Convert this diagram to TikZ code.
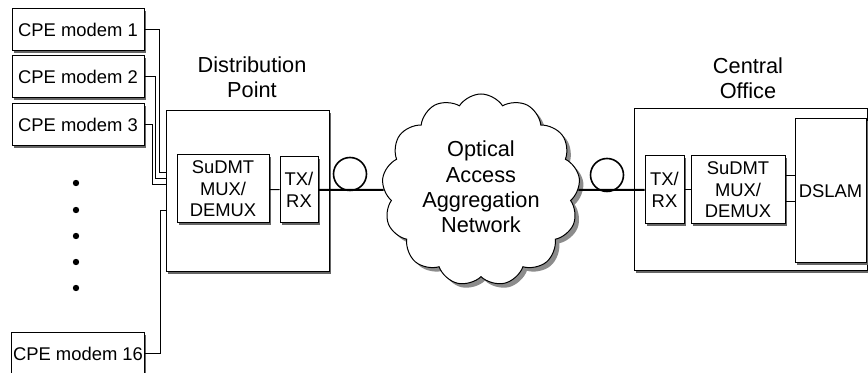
\documentclass[tikz,border=0pt]{standalone}
\usepackage{fontspec}
\setmainfont{Liberation Sans}
\usetikzlibrary{positioning,shapes.symbols,shadows}
\newdimen\px \px=0.75pt

\begin{document}
\begin{tikzpicture}[x=0.75pt,y=-0.75pt,
  box/.style={draw,line width=0.75pt,fill=white,rectangle,inner sep=1pt,align=center,
    font=\fontsize{13.8}{16.1}\selectfont,
    drop shadow={shadow xshift=1.5pt,shadow yshift=-1.5pt,fill=black!60,opacity=1}},
  sitetext/.style={align=center,inner sep=0pt,font=\fontsize{16.3}{19}\selectfont},
  cloudy/.style={cloud,cloud puffs=13,cloud puff arc=115,cloud ignores aspect,draw,line width=0.75pt,
    fill=white,minimum width=198\px,minimum height=192\px,
    drop shadow={shadow xshift=3pt,shadow yshift=-3pt,fill=black!45,opacity=1}},
  spool/.style={circle,draw,line width=1.2pt,minimum size=33\px,inner sep=0pt},
  fibre/.style={line width=1.5pt},
  wire/.style={line width=0.75pt}]
\clip(0,0)rectangle(868,373);
% CPE side
\node[box,minimum width=132\px,minimum height=42\px](m1)at(78,30){CPE modem 1};
\node[box,minimum width=132\px,minimum height=42\px](m2)at(78,77){CPE modem 2};
\node[box,minimum width=132\px,minimum height=42\px](m3)at(78,125){CPE modem 3};
\node[box,minimum width=132\px,minimum height=42\px](m16)at(78,354){CPE modem 16};
\foreach \y in {183,210,236,262,288}
  \fill(76,\y)circle(3.2\px);
% distribution point
\node[box,minimum width=163\px,minimum height=161\px](dp)at(247.5,191.5){};
\node[sitetext](dplabel)at(252,77){Distribution\\Point};
\node[box,minimum width=92\px,minimum height=68\px](dpmux)at(223,189){SuDMT\\MUX/\\DEMUX};
\node[box,minimum width=38\px,minimum height=66\px](dptrx)at(299,190){TX/\\RX};
\draw[wire](dpmux)--(dptrx);
\draw[wire](m1.east)-|(159,173)--(dp.west|-0,173);
\draw[wire](m2.east)-|(155.5,179)--(dp.west|-0,179);
\draw[wire](m3.east)-|(152,185)--(dp.west|-0,185);
\draw[wire](m16.east)-|(160,211)--(dp.west|-0,211);
% aggregation network
\node[cloudy](net)at(481,190){};
\node[sitetext](nettext)at([yshift=3\px]net.center){Optical\\Access\\Aggregation\\Network};
\node[spool](spoolA)at(350,174){};
\node[spool](spoolB)at(607,175){};
% central office
\node[box,minimum width=233\px,minimum height=162\px](co)at(750.5,190){};
\node[sitetext](colabel)at(748,78){Central\\Office};
\node[box,minimum width=39\px,minimum height=68\px](cotrx)at(664.5,190){TX/\\RX};
\node[box,minimum width=94\px,minimum height=68\px](comux)at(738,190){SuDMT\\MUX/\\DEMUX};
\node[box,minimum width=71\px,minimum height=144\px](dslam)at(830.5,191){DSLAM};
\draw[wire](cotrx)--(comux);
\draw[wire]([yshift=14\px]comux.east)--([yshift=14\px]comux.east-|dslam.west);
\draw[wire]([yshift=-12\px]comux.east)--([yshift=-12\px]comux.east-|dslam.west);
\draw[fibre](dptrx.east)--(net.west);
\draw[fibre](net.east)--(cotrx.west);
\end{tikzpicture}
\end{document}
